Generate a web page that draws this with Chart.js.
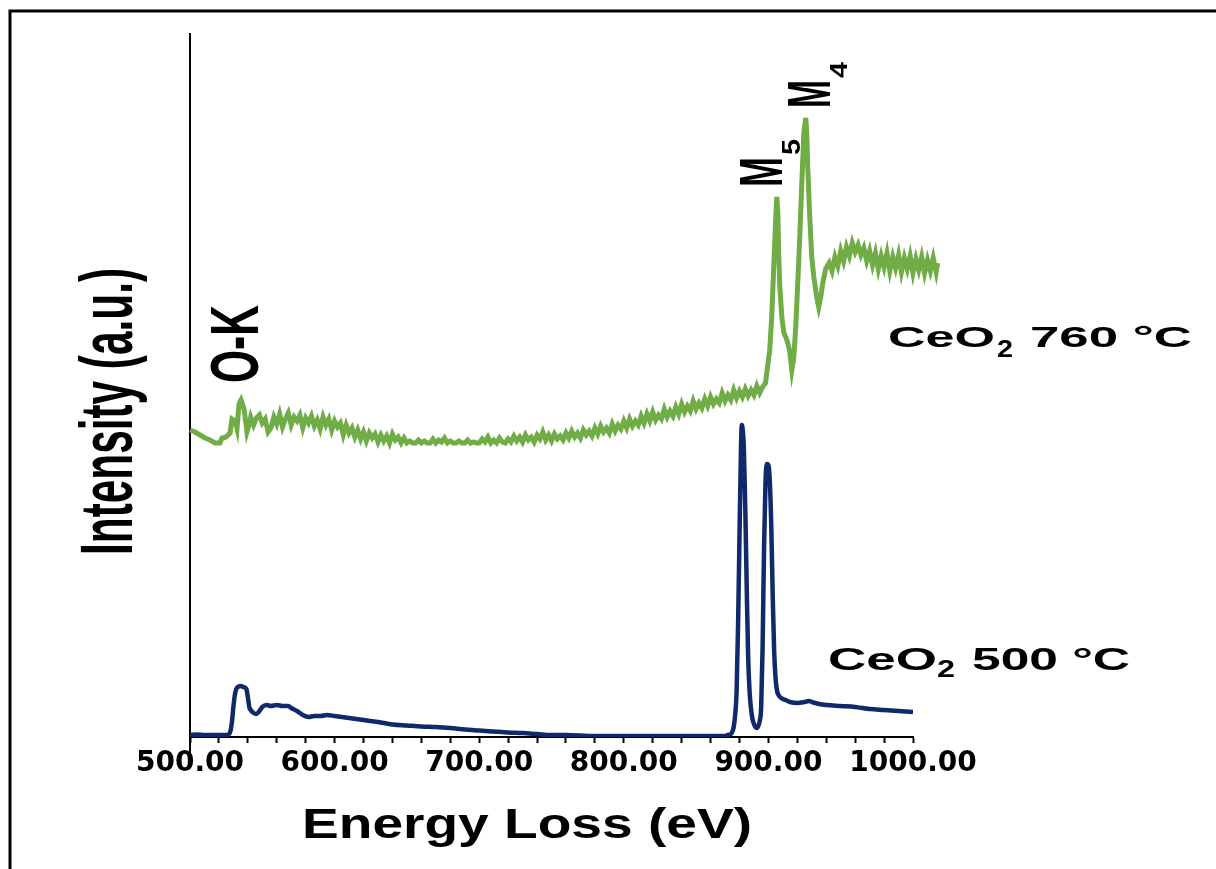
<!DOCTYPE html>
<html>
<head>
<meta charset="utf-8">
<script src="https://cdn.jsdelivr.net/npm/chart.js@4.4.1/dist/chart.umd.min.js"></script>
<style>
  html, body { margin: 0; padding: 0; background: #fff; }
  #eels { display: block; }
</style>
</head>
<body>
<canvas id="eels" width="1216" height="869"></canvas>
<script>
// CeO2 500 °C spectrum (offset 0)
const blueEnergy = [500, 505, 510, 515, 520, 525, 527, 528, 529, 530, 531, 532, 533, 535, 537, 539, 540, 541, 542, 544, 546, 548, 550, 553, 556, 560, 564, 568, 570, 574, 578, 582, 586, 590, 595, 600, 610, 620, 630, 640, 650, 660, 670, 680, 690, 700, 710, 720, 730, 740, 750, 760, 780, 800, 820, 840, 860,
  870, 872, 874, 875, 876, 877, 878, 879, 880, 881, 881.6, 882, 883, 884, 885, 886, 887, 888, 889, 890, 891, 892, 893, 894, 895, 896, 897, 898, 899, 900, 901, 902, 903, 904, 905, 906, 907, 908, 910, 912, 915, 920, 925, 928, 930, 935, 940, 950, 960, 970, 980, 990, 1000];
const blueIntensity = [2, 2.5, 2, 2, 2, 2, 3, 6, 15, 30, 42, 48, 50, 51, 50, 48, 40, 30, 27, 24, 23, 26, 30, 32, 31, 32, 31, 31, 29, 26, 22, 20, 21, 21, 22, 21, 19, 17, 15, 12.5, 11.5, 10.5, 10, 9, 7.5, 6.5, 5.5, 4.5, 4, 3, 2, 2, 1, 1, 1, 1, 1,
  1, 2, 3, 5, 10, 22, 45, 110, 200, 285, 312, 310, 290, 230, 150, 80, 45, 28, 18, 13, 10, 9, 11, 16, 30, 90, 190, 255, 273, 272, 255, 210, 140, 85, 58, 46, 42, 40, 38, 37, 35, 34, 35, 36, 35, 33, 32, 31, 30, 28, 27, 26, 25];

// CeO2 760 °C spectrum (stacked above, noisy)
const greenEnergy = [500.0, 503.5, 506.9, 510.4, 513.8, 517.3, 520.7, 522.1, 524.9, 527.7, 529.0, 531.1, 532.5, 533.9, 535.3, 537.4, 539.4, 540.8,
  542, 544, 546, 548, 550, 552, 554, 556, 558, 560, 562, 564, 566, 568, 570, 572, 574, 576, 578, 580, 582, 584, 586, 588, 590, 592, 594, 596, 598,
  600, 602, 604, 606, 608, 610, 612, 614, 616, 618, 620, 622, 624, 626, 628, 630, 632, 634, 636, 638, 640, 642, 644, 646, 648,
  650, 652, 654, 656, 658, 660, 662, 664, 666, 668, 670, 672, 674, 676, 678, 680, 682, 684, 686, 688, 690, 692, 694, 696, 698,
  700, 702, 704, 706, 708, 710, 712, 714, 716, 718, 720, 722, 724, 726, 728, 730, 732, 734, 736, 738, 740, 742, 744, 746, 748,
  750, 752, 754, 756, 758, 760, 762, 764, 766, 768, 770, 772, 774, 776, 778, 780, 782, 784, 786, 788, 790, 792, 794, 796, 798,
  800, 802, 804, 806, 808, 810, 812, 814, 816, 818, 820, 822, 824, 826, 828, 830, 832, 834, 836, 838, 840, 842, 844, 846, 848,
  850, 852, 854, 856, 858, 860, 862, 864, 866, 868, 870, 872, 874, 876, 878, 880, 882, 884, 886, 888, 890, 892, 894, 896, 898,
  900.9, 902.3, 903.7, 905.1, 905.8, 906.5, 907.2, 907.9, 909.3, 910.6, 912.0, 913.4, 914.8, 916.2, 917.6, 918.9, 920.3, 921.7, 923.1, 924.5, 925.8,
  926.5, 927.2, 928.6, 930.0, 931.4, 933.4, 934.8, 936.2, 937.6, 939.6,
  942, 944, 946, 948, 950, 952, 954, 956, 958, 960, 962, 964, 966, 968, 970, 972, 974, 976, 978, 980, 982, 984, 986, 988, 990,
  992, 994, 996, 998, 1000, 1002, 1004, 1006, 1008, 1010, 1012, 1014, 1016, 1017];
const greenIntensity = [307, 305, 302, 299, 297, 294, 294, 299, 300, 304, 318, 316, 308, 333, 337, 328, 305, 312,
  320, 312, 319, 322, 314, 318, 305, 309, 320, 313, 323, 310, 318, 324, 312, 320, 316, 322, 309, 319, 314, 321, 311, 317, 308, 320, 312, 318, 307,
  316, 310, 314, 302, 312, 304, 309, 300, 307, 298, 305, 296, 304, 299, 303, 295, 302, 296, 301, 294, 303, 297, 300, 294, 299,
  294, 296, 294, 294, 297, 294, 296, 294, 294, 298, 294, 297, 295, 299, 294, 296, 294, 294, 296, 294, 294, 297, 294, 295, 294,
  294, 298, 295, 300, 294, 297, 294, 299, 295, 294, 298, 295, 301, 296, 300, 295, 302, 297, 300, 295, 302, 298, 305, 297, 302,
  296, 303, 298, 301, 297, 304, 299, 306, 300, 304, 299, 307, 302, 306, 301, 309, 303, 311, 305, 309, 304, 313, 306, 312, 308,
  316, 309, 318, 311, 316, 312, 321, 314, 323, 316, 325, 317, 322, 318, 328, 320, 326, 321, 330, 323, 333, 325, 331, 326, 336,
  328, 334, 329, 338, 331, 340, 333, 338, 334, 344, 336, 342, 337, 347, 339, 346, 340, 348, 341, 347, 342, 351, 344, 350, 354,
  387, 420, 470, 520, 540, 525, 480, 450, 420, 405, 400, 394, 385, 367, 380, 410, 454, 500, 554, 604, 619,
  605, 570, 520, 480, 460, 440, 430, 440, 454, 468,
  474, 466, 480, 471, 486, 476, 490, 481, 494, 485, 492, 482, 489, 476, 486, 472, 484, 468, 481, 470, 484, 466, 480, 469, 482,
  465, 479, 468, 481, 464, 478, 467, 480, 464, 477, 466, 479, 465, 474];

const majorTicks = [500, 600, 700, 800, 900, 1000];

const greenPoints = greenEnergy.map((e, i) => ({ x: e, y: greenIntensity[i] }));
const bluePoints = blueEnergy.map((e, i) => ({ x: e, y: blueIntensity[i] }));

// draw bold text stretched/squeezed to a measured width
function fitText(ctx, str, x, y, size, width) {
  ctx.save();
  ctx.font = 'bold ' + size + 'px "Liberation Sans", Arial, sans-serif';
  const natural = ctx.measureText(str).width;
  ctx.translate(x, y);
  ctx.scale(width / natural, 1);
  ctx.fillText(str, 0, 0);
  ctx.restore();
}

function upText(ctx, str, x, y, size, length) {
  ctx.save();
  ctx.translate(x, y);
  ctx.rotate(-Math.PI / 2);
  fitText(ctx, str, 0, 0, size, length);
  ctx.restore();
}

const labelsPlugin = {
  id: 'eelsLabels',
  beforeDraw(chart) {
    const ctx = chart.ctx;
    ctx.save();
    ctx.strokeStyle = '#000';
    ctx.lineWidth = 3;
    ctx.beginPath();
    ctx.moveTo(10, 869);
    ctx.lineTo(10, 11);
    ctx.lineTo(1216, 11);
    ctx.stroke();
    ctx.restore();
  },
  afterDraw(chart) {
    const ctx = chart.ctx;
    const area = chart.chartArea;
    ctx.save();
    // y axis line runs a little below the x axis
    ctx.strokeStyle = '#000';
    ctx.lineWidth = 2;
    ctx.beginPath();
    ctx.moveTo(area.left, area.bottom);
    ctx.lineTo(area.left, area.bottom + 16);
    ctx.stroke();

    ctx.fillStyle = '#000';
    ctx.textAlign = 'left';
    ctx.textBaseline = 'alphabetic';
    upText(ctx, 'Intensity (a.u.)', 132, 555, 75, 287);
    upText(ctx, 'O-K', 258, 383, 68, 78);
    upText(ctx, 'M', 782, 187, 61, 30);
    upText(ctx, '5', 800, 155, 25, 16);
    upText(ctx, 'M', 830, 108, 61, 28);
    upText(ctx, '4', 847, 78, 24, 16);
    fitText(ctx, 'CeO', 888, 347, 30, 107);
    fitText(ctx, '2', 997, 357, 23, 16);
    fitText(ctx, '760 °C', 1030, 347, 30, 162);
    fitText(ctx, 'CeO', 828, 670, 32, 109);
    fitText(ctx, '2', 937, 677, 24, 18);
    fitText(ctx, '500 °C', 972, 670, 32, 158);
    fitText(ctx, 'Energy Loss (eV)', 302, 838, 42, 450);
    ctx.restore();
  }
};

new Chart(document.getElementById('eels'), {
  type: 'line',
  data: {
    datasets: [{
      label: 'CeO2 760 °C',
      data: greenPoints,
      xAxisID: 'x2',
      borderColor: '#70ad47',
      borderWidth: 5,
      pointRadius: 0,
      tension: 0,
      clip: false
    }, {
      label: 'CeO2 500 °C',
      data: bluePoints,
      xAxisID: 'x',
      borderColor: '#10296b',
      borderWidth: 4.5,
      pointRadius: 0,
      cubicInterpolationMode: 'monotone'
    }]
  },
  options: {
    responsive: false,
    animation: false,
    layout: { padding: { left: 190, right: 303, top: 34, bottom: 72 } },
    scales: {
      x: {
        type: 'linear',
        min: 500,
        max: 1000,
        afterFit: s => { s.height = 60; },
        ticks: {
          stepSize: 20,
          autoSkip: false,
          maxRotation: 0,
          padding: 4,
          color: '#000',
          font: { family: '"DejaVu Sans"', weight: 'bold', size: 28 },
          callback: v => majorTicks.includes(v) ? v.toFixed(2) : ''
        },
        grid: { drawOnChartArea: false, drawTicks: true, tickLength: 6, tickColor: '#000', tickWidth: 2 },
        border: { color: '#000', width: 2 }
      },
      // same mapping as x, but without user bounds so the 760 °C trace can run past 1000 eV
      x2: {
        type: 'linear',
        display: false,
        bounds: 'data',
        afterDataLimits: s => { s.min = 500; s.max = 1000; }
      },
      y: {
        min: 0,
        max: 703,
        afterFit: s => { s.width = 0; },
        ticks: { display: false },
        grid: { drawOnChartArea: false, drawTicks: false },
        border: { color: '#000', width: 2 }
      }
    },
    plugins: {
      legend: { display: false },
      tooltip: { enabled: false }
    }
  },
  plugins: [labelsPlugin]
});
</script>
</body>
</html>
